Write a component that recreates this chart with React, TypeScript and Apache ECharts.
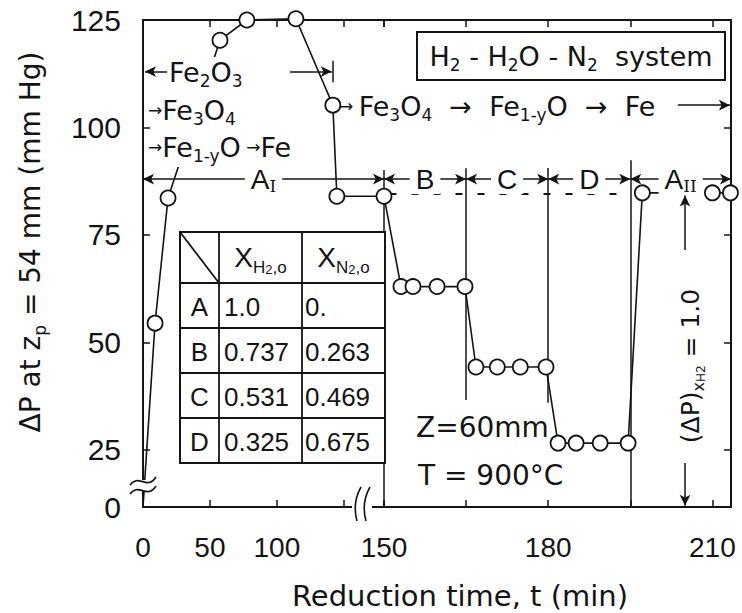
import React, { useEffect, useRef } from 'react';
import * as echarts from 'echarts';

const INK = '#141414';
const SANS = 'DejaVu Sans';
const LAB = 'Liberation Sans';

// ---------------- data ----------------
// Stage A_I, plotted on the compressed 0-180 min scale (left part)
const aiTime = [0, 9, 18.7, 57.5, 77.6, 114.2, 141.8, 144.8];
const aiDp = [0, 54.5, 83.6, 120.3, 125, 125.3, 105.2, 84];
// Stages B, C, D and A_II on the expanded scale (right part)
const bTime = [153.1, 155.3, 159.7, 164.8];
const bDp = [63, 63, 63, 63];
const cTime = [166.8, 170.7, 174.9, 179.6];
const cDp = [44.3, 44.3, 44.3, 44.3];
const dTime = [181.8, 185.1, 189.5, 194.6];
const dDp = [26.6, 26.6, 26.6, 26.6];
const aiiTime = [197.2, 210, 213.3];
const aiiDp = [84.8, 84.8, 84.8];
const aStartTime = 150; // first point of the expanded scale (A level)
const aStartDp = 84;
const refLevel = 84.5; // dashed reference level
const dimTime = 205; // (ΔP)xH2=1.0 dimension arrow
const stageRowDp = 88;
const stageBounds = [150, 165, 180, 195, 213.4];
const stageNames = ['{a|B}', '{a|C}', '{a|D}', '{a|A}{i|II}'];
const boundTop = [90.1, 90.5, 90.6, 92.4];
const boundBottom = [0, 36.6, 36, 0];
const tableRows = ['A', 'B', 'C', 'D'];
const xH2O = ['1.0', '0.737', '0.531', '0.325'];
const xN2 = ['0.', '0.263', '0.469', '0.675'];
const leftLabels = [0, 50, 100];
const rightLabels = [150, 180, 210];
const yTicks = [0, 25, 50, 75, 100, 125];
const leftMax = 180; // compressed scale end (joins the expanded scale at 150)
const rightMin = 150;
const rightMax = 213.4;
const yBreak = { start: 5, end: 16.74 };

// ---------------- helpers ----------------
function richFor(size: number, family = SANS) {
  const s = Math.round(size * 0.62);
  const t = Math.round(size * 0.46);
  return {
    n: { fontSize: size, fontFamily: family, fill: INK, lineHeight: size + 8 },
    s: { fontSize: s, fontFamily: family, fill: INK, lineHeight: s, verticalAlign: 'bottom' },
    t: { fontSize: t, fontFamily: family, fill: INK, lineHeight: t - 2, verticalAlign: 'bottom' },
    ar: { fontSize: Math.round(size * 0.62), fontFamily: family, fill: INK, lineHeight: size + 8 },
    a: { fontSize: 28, fontFamily: LAB, fill: INK, lineHeight: 30 },
    i: { fontSize: 17, fontFamily: 'DejaVu Serif', fill: INK, lineHeight: 20, verticalAlign: 'bottom' },
  };
}

function rtext(text: string, x: number, y: number, size: number, opts: any = {}) {
  const style: any = {
    text,
    rich: richFor(size, opts.family || SANS),
    fontSize: size,
    fontFamily: opts.family || SANS,
    fill: INK,
    align: opts.align || 'left',
    verticalAlign: 'middle',
  };
  if (opts.bg) {
    style.backgroundColor = opts.bg;
    style.padding = [0, 6];
  }
  return { type: 'text', x, y, z: opts.z || 30, rotation: opts.rot || 0, silent: true, style };
}

function ptext(text: string, x: number, y: number, size: number, opts: any = {}) {
  return {
    type: 'text',
    x,
    y,
    z: 30,
    rotation: opts.rot || 0,
    silent: true,
    style: {
      text,
      fontSize: size,
      fontFamily: opts.family || SANS,
      fill: INK,
      align: opts.align || 'left',
      verticalAlign: 'middle',
    },
  };
}

function seg(a: number[], b: number[], opts: any = {}) {
  const first: any = { coord: a, symbol: opts.s0 || 'none' };
  const second: any = { coord: b, symbol: opts.s1 || 'none' };
  if (opts.lineStyle) first.lineStyle = opts.lineStyle;
  return [first, second];
}

function buildOption(stageLabelEls: any[]) {
  const axisLine = { show: true, lineStyle: { color: INK, width: 2 } };
  const axisTick = { show: true, inside: true, length: 7, lineStyle: { color: INK, width: 1.5 } };
  const xLabel = (list: number[]) => ({
    show: true,
    margin: 26,
    fontSize: 28,
    fontFamily: LAB,
    color: INK,
    formatter: (v: number) => (list.includes(v) ? String(v) : ''),
  });
  const yCommon = {
    type: 'value',
    min: 0,
    max: 125,
    interval: 25,
    breaks: [{ start: yBreak.start, end: yBreak.end, gap: 0 }],
    breakArea: { show: false },
    splitLine: { show: false },
    axisLine,
    axisTick: { ...axisTick, customValues: yTicks },
  };

  const leftData: any[] = aiTime.map((t, i) => (i === 0 ? { value: [t, aiDp[i]], symbol: 'none' } : [t, aiDp[i]]));
  leftData.push({ value: [leftMax, aStartDp], symbol: 'none' });

  const rightData: any[] = [[aStartTime, aStartDp]];
  bTime.forEach((t, i) => rightData.push([t, bDp[i]]));
  cTime.forEach((t, i) => rightData.push([t, cDp[i]]));
  dTime.forEach((t, i) => rightData.push([t, dDp[i]]));
  rightData.push([aiiTime[0], aiiDp[0]]);
  rightData.push({ value: [dimTime, aiiDp[0]], symbol: 'none' });
  const tailData = aiiTime.slice(1).map((t, i) => [t, aiiDp[i + 1]]);

  const pointSeries = {
    type: 'line',
    symbol: 'circle',
    symbolSize: 15,
    itemStyle: { color: '#fff', borderColor: INK, borderWidth: 1.8 },
    lineStyle: { color: INK, width: 1.6 },
    clip: false,
    silent: true,
    z: 5,
  };

  const markBase = {
    silent: true,
    animation: false,
    symbol: ['none', 'none'],
    symbolSize: [8, 11],
    lineStyle: { color: INK, width: 1.5, type: 'solid' },
    label: { show: false },
    emphasis: { disabled: true },
  };

  const leftMarks = [
    seg([0, stageRowDp], [leftMax, stageRowDp], { s0: 'arrow', s1: 'arrow' }),
    seg([18, 113], [1.5, 113], { s1: 'arrow' }),
    seg([109.7, 113], [141, 113], { s1: 'arrow' }),
    seg([142, 110.5], [142, 115.5]),
  ];

  const rightMarks: any[] = [];
  for (let i = 0; i < 4; i++) {
    rightMarks.push(seg([stageBounds[i], boundBottom[i]], [stageBounds[i], boundTop[i]]));
    rightMarks.push(seg([stageBounds[i], stageRowDp], [stageBounds[i + 1], stageRowDp], { s0: 'arrow', s1: 'arrow' }));
  }
  rightMarks.push(seg([151, refLevel], [195, refLevel], { lineStyle: { type: [7, 15], width: 2 } }));
  rightMarks.push(seg([203.7, 105.2], [213.2, 105.2], { s1: 'arrow' }));
  rightMarks.push(seg([dimTime, 71.5], [dimTime, 84.2], { s1: 'arrow' }));
  rightMarks.push(seg([dimTime, 22], [dimTime, 0.3], { s1: 'arrow' }));

  // table geometry
  const tx = [180, 219, 302, 385];
  const ty0 = 232;
  const tyh = 283;
  const rowH = 45;
  const tableEls: any[] = [
    {
      type: 'rect',
      z: 25,
      shape: { x: tx[0], y: ty0, width: tx[3] - tx[0], height: tyh + rowH * 4 - ty0 },
      style: { fill: '#fff', stroke: INK, lineWidth: 2 },
    },
    { type: 'line', z: 26, shape: { x1: tx[1], y1: ty0, x2: tx[1], y2: tyh + rowH * 4 }, style: { stroke: INK, lineWidth: 1.8 } },
    { type: 'line', z: 26, shape: { x1: tx[2], y1: ty0, x2: tx[2], y2: tyh + rowH * 4 }, style: { stroke: INK, lineWidth: 1.8 } },
    { type: 'line', z: 26, shape: { x1: tx[0], y1: ty0, x2: tx[1], y2: tyh }, style: { stroke: INK, lineWidth: 1.8 } },
    rtext('{n|X}{s|H}{t|2}{s|,o}', (tx[1] + tx[2]) / 2, (ty0 + tyh) / 2, 28, { family: LAB, align: 'center' }),
    rtext('{n|X}{s|N}{t|2}{s|,o}', (tx[2] + tx[3]) / 2, (ty0 + tyh) / 2, 28, { family: LAB, align: 'center' }),
  ];
  tableRows.forEach((r, i) => {
    const yTop = tyh + rowH * i;
    tableEls.push({
      type: 'line',
      z: 26,
      shape: { x1: tx[0], y1: yTop, x2: tx[3], y2: yTop },
      style: { stroke: INK, lineWidth: 1.8 },
    });
    const yc = yTop + rowH / 2 + 1;
    tableEls.push(ptext(r, (tx[0] + tx[1]) / 2, yc, 26, { family: LAB, align: 'center' }));
    tableEls.push(ptext(xH2O[i], tx[1] + 5, yc, 26, { family: LAB }));
    tableEls.push(ptext(xN2[i], tx[2] + 3, yc, 26, { family: LAB }));
  });

  const breakEls: any[] = [
    { type: 'rect', z: 40, shape: { x: 352, y: 498, width: 20, height: 14 }, style: { fill: '#fff' } },
    { type: 'bezierCurve', z: 41, shape: { x1: 361, y1: 487, x2: 357, y2: 521, cpx1: 352, cpy1: 503 }, style: { stroke: INK, lineWidth: 1.6, fill: 'none' } },
    { type: 'bezierCurve', z: 41, shape: { x1: 370, y1: 487, x2: 366, y2: 521, cpx1: 361, cpy1: 503 }, style: { stroke: INK, lineWidth: 1.6, fill: 'none' } },
    { type: 'rect', z: 40, shape: { x: 137, y: 480, width: 12, height: 11 }, style: { fill: '#fff' } },
    {
      type: 'bezierCurve', z: 41,
      shape: { x1: 130, y1: 485, x2: 156, y2: 477, cpx1: 139, cpy1: 473, cpx2: 147, cpy2: 491 },
      style: { stroke: INK, lineWidth: 1.6, fill: 'none' },
    },
    {
      type: 'bezierCurve', z: 41,
      shape: { x1: 130, y1: 494, x2: 156, y2: 486, cpx1: 139, cpy1: 482, cpx2: 147, cpy2: 500 },
      style: { stroke: INK, lineWidth: 1.6, fill: 'none' },
    },
  ];

  const graphicEls: any[] = [
    // axis titles
    rtext('{n|ΔP at z}{s|p}{n| = 54 mm (mm Hg)}', 30, 242, 28, { rot: Math.PI / 2, align: 'center' }),
    ptext('Reduction time, t (min)', 460, 596, 29, { align: 'center' }),
    // system box
    {
      type: 'rect',
      z: 25,
      shape: { x: 417, y: 32, width: 308, height: 48 },
      style: { fill: '#fff', stroke: INK, lineWidth: 2 },
    },
    rtext('{n|H}{s|2}{n| - H}{s|2}{n|O - N}{s|2}{n|  system}', 571, 56, 27, { align: 'center' }),
    // reaction annotations (left)
    { type: 'rect', z: 20, shape: { x: 168, y: 57, width: 96, height: 110 }, style: { fill: '#fff' } },
    rtext('{n|Fe}{s|2}{n|O}{s|3}', 169, 72, 27),
    rtext('{ar|→}{n|Fe}{s|3}{n|O}{s|4}', 148, 110, 27),
    rtext('{ar|→}{n|Fe}{s|1-y}{n|O}{ar| →}{n|Fe}', 148, 147, 27),
    // reaction annotation (right)
    rtext('{ar|→ }{n|Fe}{s|3}{n|O}{s|4}{n|  →  Fe}{s|1-y}{n|O  →  Fe}', 339, 106, 27),
    // conditions
    ptext('Z=60mm', 416, 427, 28),
    ptext('T = 900°C', 418, 475, 28),
    // (ΔP)xH2 = 1.0
    rtext('{n|(ΔP)}{s|x}{t|H2}{n| = 1.0}', 690, 366, 25, { rot: Math.PI / 2, align: 'center' }),
    ...tableEls,
    ...breakEls,
    ...stageLabelEls,
  ];

  return {
    animation: false,
    backgroundColor: '#fff',
    grid: [
      { left: 143, right: 742 - 384, top: 20, bottom: 613 - 507 },
      { left: 384, right: 742 - 731, top: 20, bottom: 613 - 507 },
    ],
    xAxis: [
      {
        type: 'value', gridIndex: 0, position: 'bottom', min: 0, max: leftMax, interval: 50,
        axisLine, axisTick, splitLine: { show: false }, axisLabel: xLabel(leftLabels),
      },
      {
        type: 'value', gridIndex: 0, position: 'top', min: 0, max: leftMax, interval: 50,
        axisLine, axisTick, splitLine: { show: false }, axisLabel: { show: false },
      },
      {
        type: 'value', gridIndex: 1, position: 'bottom', min: rightMin, max: rightMax, interval: 15,
        axisLine, axisTick, splitLine: { show: false }, axisLabel: xLabel(rightLabels),
      },
      {
        type: 'value', gridIndex: 1, position: 'top', min: rightMin, max: rightMax, interval: 15,
        axisLine, axisTick, splitLine: { show: false }, axisLabel: { show: false },
      },
    ],
    yAxis: [
      {
        ...yCommon,
        gridIndex: 0,
        position: 'left',
        axisLabel: {
          show: true,
          customValues: yTicks,
          margin: 22,
          fontSize: 30,
          fontFamily: LAB,
          color: INK,
          formatter: (v: number) => (yTicks.includes(v) ? String(v) : ''),
        },
      },
      {
        ...yCommon,
        gridIndex: 1,
        position: 'right',
        axisLabel: { show: false },
      },
    ],
    series: [
      { ...pointSeries, name: 'A_I', xAxisIndex: 0, yAxisIndex: 0, data: leftData },
      { ...pointSeries, name: 'B-C-D', xAxisIndex: 2, yAxisIndex: 1, data: rightData },
      { ...pointSeries, name: 'A_II', xAxisIndex: 2, yAxisIndex: 1, data: tailData },
      { type: 'line', name: 'left guides', xAxisIndex: 0, yAxisIndex: 0, data: [], clip: false, silent: true, markLine: { ...markBase, data: leftMarks } },
      { type: 'line', name: 'right guides', xAxisIndex: 2, yAxisIndex: 1, data: [], clip: false, silent: true, markLine: { ...markBase, data: rightMarks } },
    ],
    graphic: { elements: graphicEls },
  };
}

export default function App() {
  const ref = useRef<HTMLDivElement>(null);
  useEffect(() => {
    document.body.style.margin = '0';
    const chart = echarts.init(ref.current as HTMLDivElement, undefined, { renderer: 'svg' });
    chart.setOption(buildOption([]) as any);
    // stage labels sit at the middle of each stage, on the stage arrow row
    const labels: any[] = [];
    const pA = chart.convertToPixel({ xAxisIndex: 0, yAxisIndex: 0 } as any, [leftMax / 2, stageRowDp]) as any;
    if (pA) labels.push(rtext('{a|A}{i|I}', pA[0], pA[1], 28, { align: 'center', bg: '#fff', z: 35 }));
    for (let i = 0; i < 4; i++) {
      const p = chart.convertToPixel({ xAxisIndex: 2, yAxisIndex: 1 } as any, [
        (stageBounds[i] + stageBounds[i + 1]) / 2,
        stageRowDp,
      ]) as any;
      if (p) labels.push(rtext(stageNames[i], p[0], p[1], 28, { align: 'center', bg: '#fff', z: 35 }));
    }
    chart.setOption(buildOption(labels) as any, true);
    return () => chart.dispose();
  }, []);
  return <div ref={ref} style={{ width: 742, height: 613, background: '#fff' }} />;
}
